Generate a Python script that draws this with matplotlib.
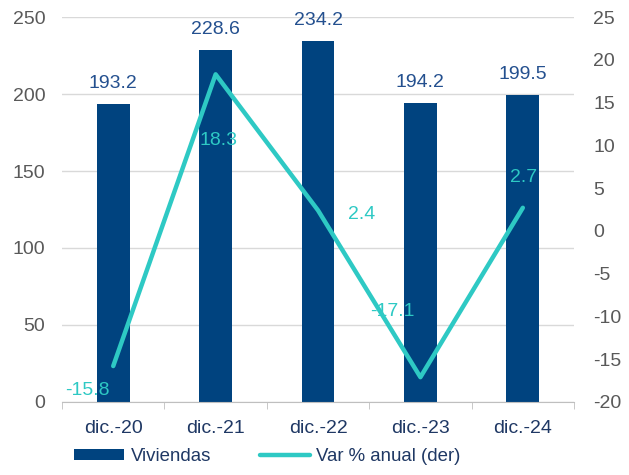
import matplotlib
matplotlib.use("Agg")
import matplotlib.pyplot as plt
import numpy as np

plt.rcParams['font.family'] = ['Liberation Sans', 'DejaVu Sans']
plt.rcParams['axes.unicode_minus'] = False

categories = ["dic.-20", "dic.-21", "dic.-22", "dic.-23", "dic.-24"]
viviendas = [193.2, 228.6, 234.2, 194.2, 199.5]
var_anual = [-15.8, 18.3, 2.4, -17.1, 2.7]

bar_color = "#00437F"
line_color = "#2EC9C4"
text_gray = "#595959"
label_blue = "#24508F"
fs = 14

fig = plt.figure(figsize=(6.29, 4.75), dpi=100)
ax = fig.add_axes([0.0986, 0.1537, 0.814, 0.8105])
x = np.arange(len(categories))

ax.bar(x, viviendas, width=0.32, color=bar_color, zorder=2, label="Viviendas")
ax.set_xlim(-0.5, len(categories) - 0.5)
ax.set_ylim(0, 250)
ax.set_yticks(np.arange(0, 251, 50))
ax.yaxis.grid(True, color="#D9D9D9", linewidth=1)
ax.set_axisbelow(True)
for s in ["top", "right", "left"]:
    ax.spines[s].set_visible(False)
ax.spines["bottom"].set_color("#BFBFBF")
ax.tick_params(axis="y", length=0, labelsize=fs, labelcolor=text_gray, pad=12)
ax.set_xticks(x)
ax.set_xticklabels(categories)
ax.tick_params(axis="x", length=0, labelsize=fs, labelcolor="#1F3864", pad=13)
ax.set_xticks(np.arange(-0.5, len(categories), 1), minor=True)
ax.tick_params(axis="x", which="minor", length=5, color="#BFBFBF")

for xi, v in zip(x, viviendas):
    ax.annotate(f"{v:.1f}", (xi, v), xytext=(0, 12), textcoords="offset pixels",
                ha="center", va="bottom", fontsize=fs, color=label_blue)

ax2 = ax.twinx()
ax2.plot(x, var_anual, color=line_color, linewidth=3.2, zorder=3,
         label="Var % anual (der)", solid_capstyle="round")
ax2.set_ylim(-20, 25)
ax2.set_yticks(np.arange(-20, 26, 5))
for s in ["top", "right", "left", "bottom"]:
    ax2.spines[s].set_visible(False)
ax2.tick_params(axis="y", length=0, labelsize=fs, labelcolor=text_gray, pad=14)

offsets = [(-26, -24), (3, -66), (44, -4), (-28, 66), (1, 30)]
for xi, v, (dx, dy) in zip(x, var_anual, offsets):
    ax2.annotate(f"{v:.1f}", (xi, v), xytext=(dx, dy), textcoords="offset pixels",
                 ha="center", va="center", fontsize=fs, color=line_color)

h1, l1 = ax.get_legend_handles_labels()
h2, l2 = ax2.get_legend_handles_labels()
fig.legend(h1 + h2, l1 + l2, loc="lower center", bbox_to_anchor=(0.425, -0.015),
           ncol=2, frameon=False, fontsize=13.4, handlelength=2.7, handleheight=0.55,
           handletextpad=0.35, columnspacing=2.6, labelcolor="#1F3864")

fig.savefig("out.png", dpi=100)
